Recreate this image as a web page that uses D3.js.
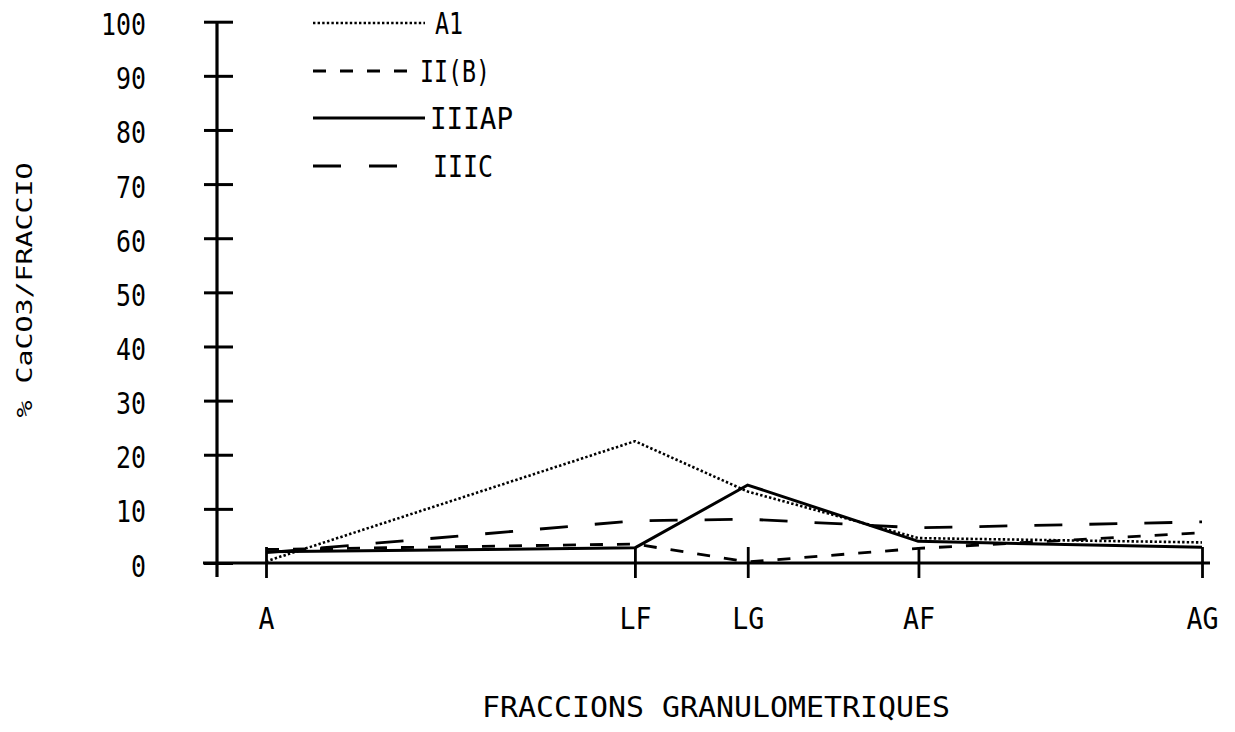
<!DOCTYPE html>
<html>
<head>
<meta charset="utf-8">
<script src="https://cdn.jsdelivr.net/npm/d3@7"></script>
<style>
body { margin: 0; background: #fff; }
text { font-family: "DejaVu Sans Mono", monospace; fill: #000; }
</style>
</head>
<body>
<svg id="plotCanvas" width="1235" height="732"></svg>
<script>
// fractions and their grain size (um), the x axis is logarithmic
var categories = ["A", "LF", "LG", "AF", "AG"];
var grainSize = [1, 20, 50, 200, 2000];
var yTicks = [0, 10, 20, 30, 40, 50, 60, 70, 80, 90, 100];

var seriesNames = ["A1", "II(B)", "IIIAP", "IIIC"];
var valuesA1 = [0.3, 22.5, 13.2, 4.6, 3.8];
var valuesIIB = [2.5, 3.5, 0.2, 2.7, 5.6];
var valuesIIIAP = [2.1, 2.8, 14.4, 4.0, 2.9];
var valuesIIIC = [1.9, 7.8, 8.1, 6.5, 7.6];

var canvasWidth = 1235, canvasHeight = 732;
var canvas = d3.select("#plotCanvas");
canvas.append("rect").attr("width", canvasWidth).attr("height", canvasHeight).attr("fill", "#fff");

var axisX = 217, axisY = 563, topY = 21.7, rightX = 1210;

var x = d3.scaleLog().domain([1, 2000]).range([266, 1202]);
var y = d3.scaleLinear().domain([0, 100]).range([axisY, topY]);

var dashes = ["2.4,2.2", "13,14", null, "28,27"];
var widths = [2.6, 2.8, 3, 2.8];
var allValues = [valuesA1, valuesIIB, valuesIIIAP, valuesIIIC];

function fitText(sel, perChar)
{
    sel.attr("textLength", function() { return this.textContent.length * perChar; })
       .attr("lengthAdjust", "spacingAndGlyphs");
}

// y axis
var yAxis = canvas.append("g")
    .attr("transform", "translate(" + axisX + ",0)")
    .call(d3.axisLeft(y).tickValues(yTicks).tickSize(0));
yAxis.select(".domain").remove();
yAxis.selectAll(".tick line")
    .attr("x1", -13).attr("x2", 16)
    .attr("stroke", "#000").attr("stroke-width", 3);
yAxis.selectAll(".tick text")
    .attr("x", -71).attr("dy", null).attr("y", 13)
    .attr("text-anchor", "end")
    .attr("font-family", "DejaVu Sans Mono")
    .attr("font-size", "30px")
    .call(fitText, 15);
canvas.append("line")
    .attr("x1", axisX).attr("x2", axisX)
    .attr("y1", topY).attr("y2", axisY + 14)
    .attr("stroke", "#000").attr("stroke-width", 3.2);

// x axis
var xAxis = canvas.append("g")
    .attr("transform", "translate(0," + axisY + ")")
    .call(d3.axisBottom(x).tickValues(grainSize)
        .tickFormat(function(d, i) { return categories[i]; })
        .tickSize(0));
xAxis.select(".domain").remove();
xAxis.selectAll(".tick line")
    .attr("y1", -16).attr("y2", 15)
    .attr("stroke", "#000").attr("stroke-width", 2.8);
xAxis.selectAll(".tick text")
    .attr("dy", null).attr("y", 66)
    .attr("font-family", "DejaVu Sans Mono")
    .attr("font-size", "30px")
    .call(fitText, 16);
canvas.append("line")
    .attr("x1", axisX - 14).attr("x2", rightX)
    .attr("y1", axisY).attr("y2", axisY)
    .attr("stroke", "#000").attr("stroke-width", 3.2);

// series
var line = d3.line()
    .x(function(d, i) { return x(grainSize[i]); })
    .y(function(d) { return y(d); });

allValues.forEach(function(vals, k)
{
    canvas.append("path")
        .attr("d", line(vals))
        .attr("fill", "none")
        .attr("stroke", "#000")
        .attr("stroke-width", widths[k])
        .attr("stroke-dasharray", dashes[k])
        .attr("stroke-linejoin", "round");
});

// legend
var legendRows = [23, 71, 118, 166];
var legendLineEnd = [425, 415, 425, 398];
var legendTextX = [435, 420, 430, 433];
var legendPerChar = [14, 14, 16.6, 15];
seriesNames.forEach(function(name, k)
{
    canvas.append("line")
        .attr("x1", 313).attr("x2", legendLineEnd[k])
        .attr("y1", legendRows[k]).attr("y2", legendRows[k])
        .attr("stroke", "#000")
        .attr("stroke-width", widths[k])
        .attr("stroke-dasharray", k == 3 ? "28,28" : dashes[k]);
    canvas.append("text")
        .attr("x", legendTextX[k])
        .attr("y", legendRows[k] + 11)
        .attr("font-size", "30px")
        .text(name)
        .attr("textLength", name.length * legendPerChar[k])
        .attr("lengthAdjust", "spacingAndGlyphs");
});

// axis titles
canvas.append("text")
    .attr("x", 716).attr("y", 717)
    .attr("text-anchor", "middle")
    .attr("font-size", "28px")
    .text("FRACCIONS GRANULOMETRIQUES")
    .call(fitText, 18);

canvas.append("text")
    .attr("transform", "translate(32,290) rotate(-90)")
    .attr("text-anchor", "middle")
    .attr("font-size", "22px")
    .text("% CaCO3/FRACCIO")
    .call(fitText, 17);
</script>
</body>
</html>
